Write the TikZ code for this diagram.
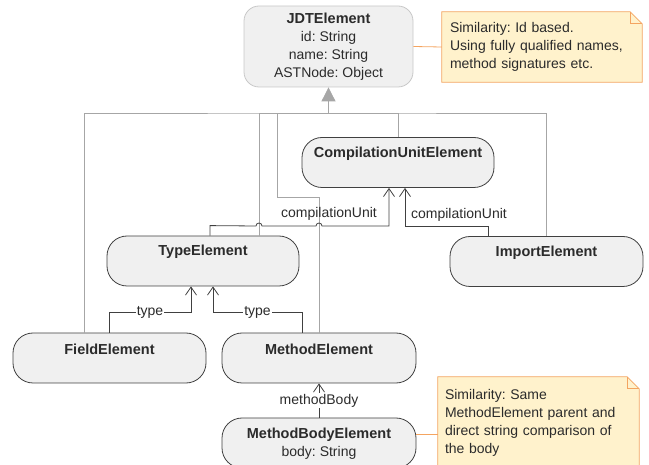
\documentclass[tikz,border=0pt]{standalone}
\usepackage{fontspec}
\setmainfont{Liberation Sans}
\usetikzlibrary{arrows.meta,backgrounds}
\frenchspacing

\definecolor{boxfill}{HTML}{F0F0F0}
\definecolor{boxline}{HTML}{404040}
\definecolor{rootline}{HTML}{C8C8C8}
\definecolor{genline}{HTML}{A6A6A6}
\definecolor{notefill}{HTML}{FFF2CC}
\definecolor{noteborder}{HTML}{F4A460}
\definecolor{textgray}{HTML}{2B2B2B}

\begin{document}
\begin{tikzpicture}[x=1pt, y=-1pt, font=\fontsize{14}{18}\selectfont, text=textgray]
\useasboundingbox (0,0) rectangle (649,465);

%style for class boxes
\tikzstyle{cls} = [rectangle, rounded corners=20pt, fill=boxfill, draw=boxline, line width=0.8pt, minimum width=193pt, minimum height=50pt, inner sep=0pt]

%style for class titles
\tikzstyle{title} = [font=\fontsize{14.5}{18}\selectfont\bfseries, inner sep=0pt, align=center]

%style for notes
\tikzstyle{note} = [rectangle, inner sep=8pt, align=left]
\tikzstyle{notepen} = [fill=notefill, draw=noteborder, line width=0.8pt]
\tikzstyle{notelink} = [draw=noteborder, line width=0.8pt]

%style for connectors
\tikzstyle{gen} = [draw=genline, line width=0.8pt]
\tikzstyle{assoc} = [draw=boxline, line width=0.8pt, -{Straight Barb[length=8pt, width=11pt]}]
\tikzstyle{lbl} = [inner sep=1pt]

%place nodes
\node[cls, draw=rootline, rounded corners=15pt, minimum width=169pt, minimum height=81pt, align=center] (jdt) at (328.5,46.5) {{\fontsize{14.5}{18}\selectfont\bfseries JDTElement}\\id: String\\name: String\\ASTNode: Object};
\node[note, text width=184pt, minimum height=70pt] (note1) at (542,47) {Similarity: Id based.\\Using fully qualified names,\\method signatures etc.};

\node[cls, minimum width=192pt] (comp) at (398,162.5) {};
\node[title] (compT) at ([yshift=-16.5pt]comp.north) {CompilationUnitElement};

\node[cls, minimum width=192pt] (type) at (203,261) {};
\node[title] (typeT) at ([yshift=-16.5pt]type.north) {TypeElement};

\node[cls] (import) at (546.5,261.5) {};
\node[title] (importT) at ([yshift=-16.5pt]import.north) {ImportElement};

\node[cls] (field) at (109.5,358) {};
\node[title] (fieldT) at ([yshift=-16.5pt]field.north) {FieldElement};

\node[cls, minimum width=194pt] (method) at (319,358) {};
\node[title] (methodT) at ([yshift=-16.5pt]method.north) {MethodElement};

\node[cls, minimum width=194pt] (mbody) at (319,443) {};
\node[title] (mbodyT) at ([yshift=-26pt]mbody.north) {MethodBodyElement\\\fontsize{14}{18}\selectfont\mdseries body: String};

\node[note, inner sep=7pt, text width=187pt, minimum height=92pt] (note2) at (538.5,423) {Similarity: Same\\MethodElement parent and\\direct string comparison of\\the body};

%note shapes with folded corner
\begin{pgfonlayer}{background}
\filldraw[notepen] (note1.north west) -- ([xshift=-12pt]note1.north east) -- ([yshift=-12pt]note1.north east) -- (note1.south east) -- (note1.south west) -- cycle;
\draw[notelink] ([xshift=-12pt]note1.north east) |- ([yshift=-12pt]note1.north east);
\filldraw[notepen] (note2.north west) -- ([xshift=-12pt]note2.north east) -- ([yshift=-12pt]note2.north east) -- (note2.south east) -- (note2.south west) -- cycle;
\draw[notelink] ([xshift=-12pt]note2.north east) |- ([yshift=-12pt]note2.north east);
\end{pgfonlayer}

%attach notes
\draw[notelink] (jdt.east) -- (note1.west);
\draw[notelink] (mbody.5) -- (mbody.5 -| note2.west);

% generalization tree up to JDTElement
\coordinate (bus) at (328.5,113);
\coordinate (bend) at (277,197);
\draw[gen, -{Triangle[width=14pt, length=14pt]}] (bus) -- (jdt.south);
\draw[gen] ([xshift=-25.5pt]field.north) |- (bus) -| (import.north);
\draw[gen] ([xshift=56pt]type.north) |- (bus);
\draw[gen] (comp.north) |- (bus);
\draw[gen] (method.north) |- (bend) |- (bus);

% associations
\draw[assoc] ([xshift=7pt]type.north) -- ++(0,-10) -- (256,226) arc[start angle=180, end angle=0, radius=3pt] -- (316,226) arc[start angle=180, end angle=0, radius=3pt] -| ([xshift=-9pt]comp.south);
\node[lbl] (cuL) at (329,214) {compilationUnit};
\draw[assoc] ([xshift=-58.5pt]import.north) -- ++(0,-10) -| ([xshift=7pt]comp.south);
\node[lbl] (cuR) at (459,215) {compilationUnit};

\draw[assoc] ([xshift=-0.5pt]field.north) -- ++(0,-20) -| node[lbl, fill=white, pos=0.25] (typeL) {type} ([xshift=-12pt]type.south);
\draw[assoc] ([xshift=-17pt]method.north) -- ++(0,-20) -| node[lbl, fill=white, pos=0.25] (typeR) {type} ([xshift=10pt]type.south);
\draw[assoc] (mbody.north) -- node[lbl, fill=white] (mbL) {methodBody} (method.south);
\end{tikzpicture}
\end{document}
